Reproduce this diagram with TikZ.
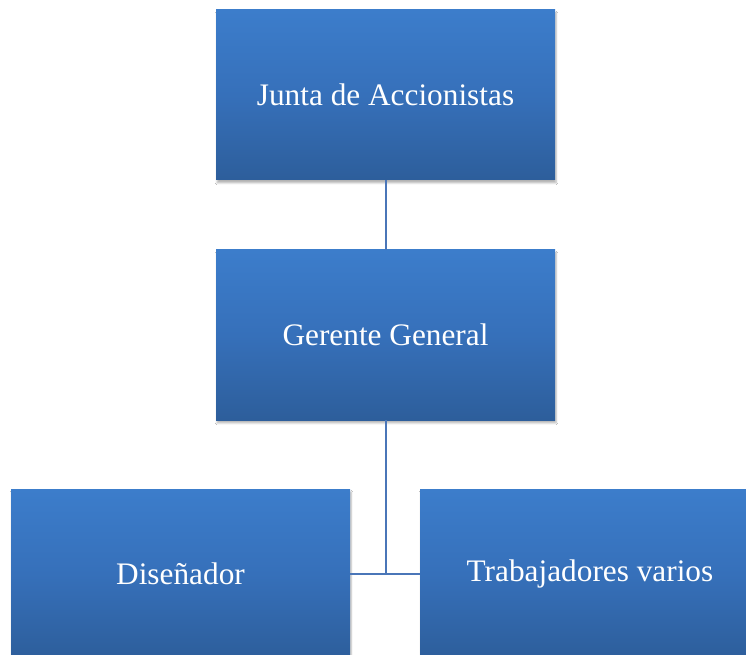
\documentclass[tikz,border=0pt]{standalone}
\usepackage{fontspec}
\setmainfont{Liberation Serif}
\usetikzlibrary{shadows.blur}
\definecolor{boxtop}{HTML}{3C7DCB}
\definecolor{boxmid}{HTML}{3670BA}
\definecolor{boxbot}{HTML}{2D5E9B}
\definecolor{linecol}{HTML}{4A76B8}
\tikzset{
  orgbox/.style={rectangle, inner sep=0pt, minimum width=339pt, minimum height=170pt,
    top color=boxtop, bottom color=boxbot, middle color=boxmid,
    text=white, font=\fontsize{31.3}{36}\selectfont,
    blur shadow={shadow xshift=1pt, shadow yshift=-3pt, shadow blur steps=6, shadow opacity=30}},
  conn/.style={draw=linecol, line width=2pt}
}
\begin{document}
\begin{tikzpicture}[x=1pt,y=1pt]
\useasboundingbox (0,0) rectangle (746,654);
\clip (0,0) rectangle (746,654);
\fill[white] (0,0) rectangle (746,654);
\node[orgbox] (junta) at (385.5,559) {Junta de Accionistas};
\node[orgbox] (gerente) at (385.5,319) {Gerente General};
\node[orgbox] (dis) at (180.5,80) {Diseñador};
\node[orgbox, minimum width=340pt] (trab) at (590,80) {Trabajadores varios};
\coordinate (j) at (385.5,80);
\draw[conn] (junta.south) -- (gerente.north);
\draw[conn] (gerente.south) -- (j);
\draw[conn] (dis.east) -- (trab.west);
\end{tikzpicture}
\end{document}
